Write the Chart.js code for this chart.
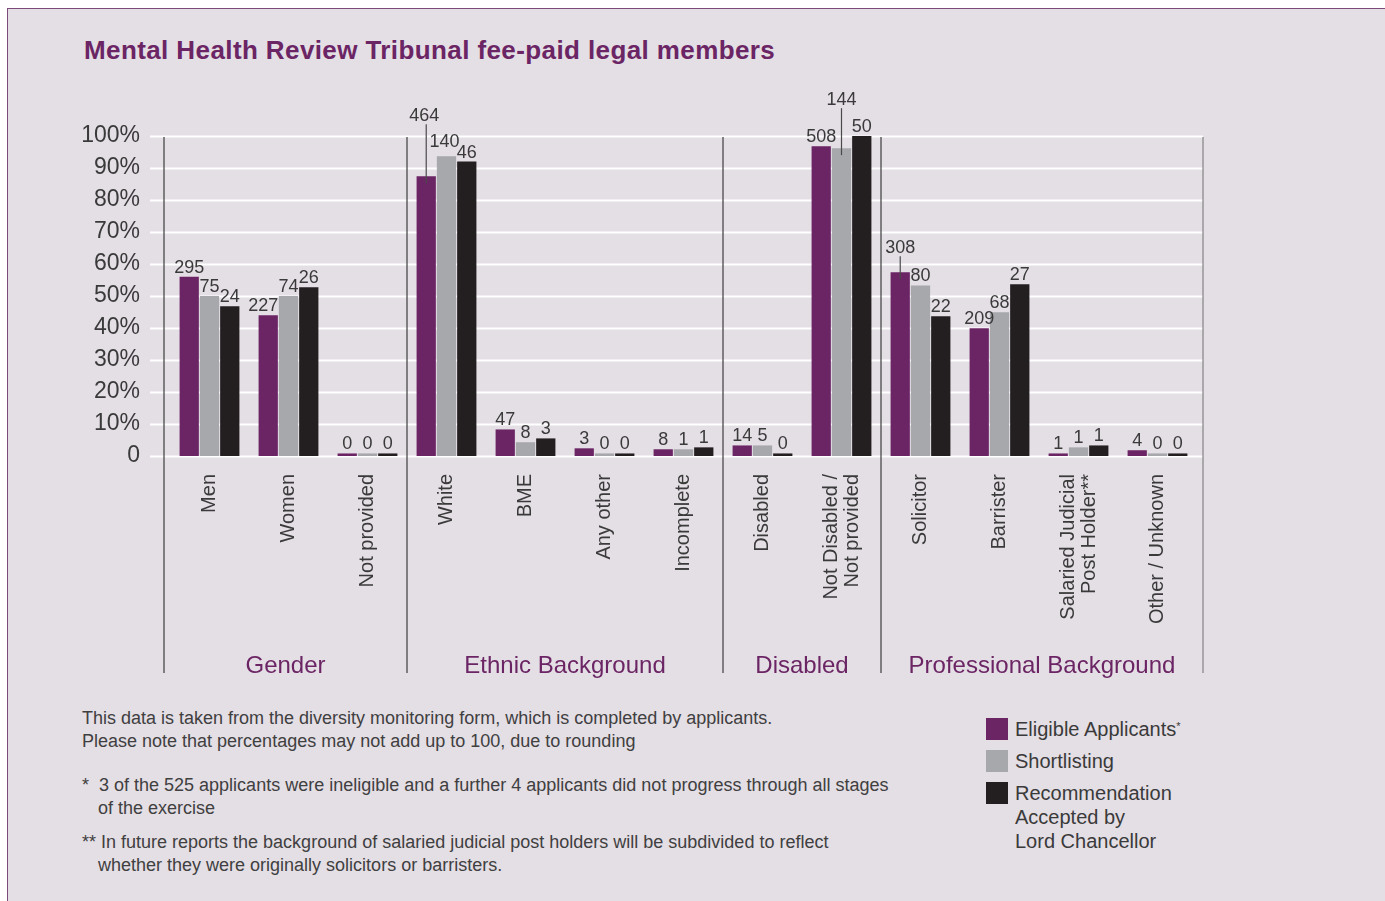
<!DOCTYPE html>
<html>
<head>
<meta charset="utf-8">
<script src="https://cdn.jsdelivr.net/npm/chart.js@4"></script>
<style>
  body { margin: 0; background: #fff; font-family: "Liberation Sans", Arial, sans-serif; }
  #panel { position: absolute; left: 7px; top: 8px; width: 1400px; height: 900px;
           background: #e4dee5; border-left: 1.5px solid #7b4a78; border-top: 1.5px solid #7b4a78; }
  #title { position: absolute; left: 84px; top: 35px; line-height: 30px; font-size: 26px; letter-spacing: 0.4px;
           font-weight: bold; color: #6b2564; white-space: nowrap; }
  #chartBox { position: absolute; left: 0; top: 0; width: 1385px; height: 690px; }
  #notes { position: absolute; left: 82px; top: 707px; font-size: 18px; line-height: 22.5px; color: #404040; white-space: nowrap; }
  #notes p { margin: 0; }
  #notes .in { padding-left: 16px; }
  #legend { position: absolute; left: 986px; top: 717px; font-size: 20px; color: #3a3a3a; line-height: 24px; }
  .item { position: relative; padding-left: 29px; margin-bottom: 8px; }
  .sw { position: absolute; left: 0; top: 1px; width: 22px; height: 22px; }
  sup { font-size: 11px; vertical-align: 6px; line-height: 0; }
</style>
</head>
<body>
<div id="panel"></div>
<div id="title">Mental Health Review Tribunal fee-paid legal members</div>
<div id="chartBox"><canvas id="tribunalChart"></canvas></div>
<div id="notes">
  <p>This data is taken from the diversity monitoring form, which is completed by applicants.</p>
  <p>Please note that percentages may not add up to 100, due to rounding</p>
  <p style="margin-top:22px">*&nbsp;&nbsp;3 of the 525 applicants were ineligible and a further 4 applicants did not progress through all stages</p>
  <p class="in">of the exercise</p>
  <p style="margin-top:12px">**&nbsp;In future reports the background of salaried judicial post holders will be subdivided to reflect</p>
  <p class="in">whether they were originally solicitors or barristers.</p>
</div>
<div id="legend">
  <div class="item"><span class="sw" style="background:#6b2564"></span>Eligible Applicants<sup>*</sup></div>
  <div class="item"><span class="sw" style="background:#a7a8ab"></span>Shortlisting</div>
  <div class="item"><span class="sw" style="background:#231f20"></span>Recommendation<br>Accepted by<br>Lord Chancellor</div>
</div>
<script>
// categories (multi-line labels as arrays)
const categories = [
  ['Men'], ['Women'], ['Not provided'],
  ['White'], ['BME'], ['Any other'], ['Incomplete'],
  ['Disabled'], ['Not Disabled /', 'Not provided'],
  ['Solicitor'], ['Barrister'], ['Salaried Judicial', 'Post Holder**'], ['Other / Unknown']
];
const groupNames = ['Gender', 'Ethnic Background', 'Disabled', 'Professional Background'];
const groupSizes = [3, 4, 2, 4];

// bar heights in percent
const eligiblePct  = [56, 44, 0.8, 87.4, 8.3, 2.4, 2.1, 3.3, 96.8, 57.4, 39.9, 0.8, 1.8];
const shortlistPct = [50, 50, 0.8, 93.7, 4.3, 0.8, 2.1, 3.3, 96.2, 53.3, 44.9, 2.7, 0.8];
const recommendPct = [46.8, 52.7, 0.8, 92, 5.5, 0.8, 2.7, 0.8, 100, 43.7, 53.7, 3.3, 0.8];

// counts printed above the bars
const eligibleCount  = [295, 227, 0, 464, 47, 3, 8, 14, 508, 308, 209, 1, 4];
const shortlistCount = [75, 74, 0, 140, 8, 0, 1, 5, 144, 80, 68, 1, 0];
const recommendCount = [24, 26, 0, 46, 3, 0, 1, 0, 50, 22, 27, 1, 0];

const yTicks = [0, 10, 20, 30, 40, 50, 60, 70, 80, 90, 100];

const textColor = '#3a3a3a';
const purple = '#6b2564';
const fontFamily = '"Liberation Sans", Arial, sans-serif';

// label tweaks: "dataset-index" -> [dx, lift, leader line]
const labelNudge = {
  '0-3': [-2, 51, true],
  '1-3': [-2, 5, false],
  '1-8': [0, 39, true],
  '0-9': [0, 15, true],
  '0-1': [-5, 0, false]
};

const decorPlugin = {
  id: 'decor',
  beforeDatasetsDraw(chart) {
    const c = chart.ctx, y = chart.scales.y, x = chart.scales.x;
    c.save();
    // white gridlines, reaching a bit further than the plot
    c.strokeStyle = '#ffffff';
    c.lineWidth = 2;
    yTicks.forEach(t => {
      const py = Math.round(y.getPixelForValue(t)) + 0.5;
      c.beginPath(); c.moveTo(150, py); c.lineTo(x.right + 6, py); c.stroke();
    });
    // group dividers
    const step = (x.right - x.left) / categories.length;
    const pos = [x.left - 6];
    let acc = 0;
    groupSizes.forEach((n, i) => {
      acc += n;
      pos.push(i === groupSizes.length - 1 ? x.right + 6 : x.left + acc * step);
    });
    c.lineWidth = 1.3;
    pos.forEach((px, i) => {
      c.strokeStyle = i === pos.length - 1 ? '#8a8a8a' : '#4a4a4a';
      c.beginPath(); c.moveTo(px, y.top + 1); c.lineTo(px, 673); c.stroke();
    });
    // category labels, rotated and centred on each category
    c.fillStyle = textColor;
    c.font = '20px ' + fontFamily;
    c.textAlign = 'right';
    c.textBaseline = 'middle';
    categories.forEach((lines, i) => {
      const cx = x.getPixelForValue(i);
      c.save();
      c.translate(cx, y.bottom + 18);
      c.rotate(-Math.PI / 2);
      lines.forEach((ln, k) => c.fillText(ln, 0, (k - (lines.length - 1) / 2) * 21));
      c.restore();
    });
    // group names
    c.fillStyle = purple;
    c.font = '24px ' + fontFamily;
    c.textAlign = 'center';
    c.textBaseline = 'middle';
    groupNames.forEach((g, i) => {
      c.fillText(g, (pos[i] + pos[i + 1]) / 2, 666);
    });
    c.restore();
  },
  afterDatasetsDraw(chart) {
    const c = chart.ctx;
    const counts = [eligibleCount, shortlistCount, recommendCount];
    c.save();
    c.font = '18px ' + fontFamily;
    c.fillStyle = textColor;
    c.textAlign = 'center';
    c.textBaseline = 'alphabetic';
    chart.data.datasets.forEach((ds, di) => {
      chart.getDatasetMeta(di).data.forEach((bar, i) => {
        const n = labelNudge[di + '-' + i] || [0, 0, false];
        const base = bar.y - 4 - n[1];
        c.fillText(String(counts[di][i]), bar.x + n[0], base);
        if (n[2]) {
          c.strokeStyle = '#4a4a4a';
          c.lineWidth = 1.2;
          c.beginPath(); c.moveTo(bar.x, base + 3); c.lineTo(bar.x, bar.y + 7); c.stroke();
        }
      });
    });
    c.restore();
  }
};

new Chart(document.getElementById('tribunalChart'), {
  type: 'bar',
  data: {
    labels: categories,
    datasets: [
      { label: 'Eligible Applicants*', data: eligiblePct, backgroundColor: purple },
      { label: 'Shortlisting', data: shortlistPct, backgroundColor: '#a7a8ab' },
      { label: 'Recommendation Accepted by Lord Chancellor', data: recommendPct, backgroundColor: '#231f20' }
    ]
  },
  options: {
    responsive: true,
    maintainAspectRatio: false,
    animation: false,
    layout: { padding: { top: 136, left: 0, right: 188, bottom: 0 } },
    datasets: { bar: { categoryPercentage: 0.77, barPercentage: 0.95 } },
    plugins: { legend: { display: false }, tooltip: { enabled: false } },
    scales: {
      x: {
        grid: { display: false, drawTicks: false },
        border: { display: false },
        afterFit: s => { s.height = 234; },
        ticks: { display: false }
      },
      y: {
        min: 0, max: 100,
        grid: { display: false, drawTicks: false },
        border: { display: false },
        afterFit: s => { s.width = 170; },
        afterBuildTicks: s => { s.ticks = yTicks.map(v => ({ value: v })); },
        ticks: {
          padding: 30,
          color: textColor,
          font: { family: fontFamily, size: 23 },
          callback: v => v === 0 ? '0' : v + '%'
        }
      }
    }
  },
  plugins: [decorPlugin]
});
</script>
</body>
</html>
